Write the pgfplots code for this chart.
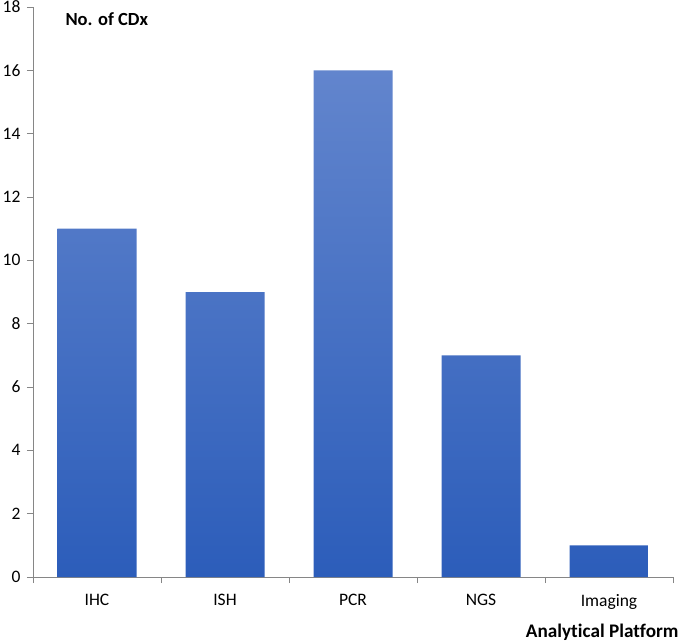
\documentclass[border=0pt]{standalone}
\usepackage{pgfplots}
\pgfplotsset{compat=1.18}
\usepackage{fontspec}
\setmainfont[Ligatures={CommonOff}]{Carlito}
\definecolor{bartop}{RGB}{98,133,205}
\definecolor{barbot}{RGB}{44,93,186}
\definecolor{axgray}{RGB}{134,134,134}
\begin{document}
\begin{tikzpicture}
\begin{axis}[
  scale only axis,
  width=640pt, height=570pt,
  xmin=-0.5, xmax=4.5, ymin=0, ymax=18,
  ybar, bar width=79pt,
  axis lines*=left,
  axis line style={axgray, line width=0.8pt},
  xtick={0,1,2,3,4},
  xticklabels={IHC,ISH,PCR,NGS,Imaging},
  minor xtick={-0.5,0.5,1.5,2.5,3.5,4.5},
  ytick={0,2,...,18},
  tick align=outside,
  major tick length=6pt,
  minor tick length=6pt,
  major x tick style={draw=none},
  minor x tick style={axgray, line width=0.8pt},
  major y tick style={axgray, line width=0.8pt},
  /pgf/number format/assume math mode=true,
  ticklabel style={font=\fontsize{17.5}{20}\selectfont, text=black},
  xticklabel style={yshift=-8pt},
  yticklabel style={xshift=-3pt},
  clip=false,
]
\addplot[draw=none, top color=bartop, bottom color=barbot] coordinates {(0,11) (1,9) (2,16) (3,7) (4,1)};
\node[anchor=base west, font=\fontsize{18.5}{22}\bfseries] at (axis cs:-0.5,17.43) [xshift=29pt] {No. of CDx};
\end{axis}
\node[anchor=base east, font=\fontsize{19.2}{22}\bfseries] at ([xshift=9pt,yshift=-60pt]current axis.south east) {Analytical Platform};
\pgfresetboundingbox
\path[use as bounding box] ([xshift=-33pt,yshift=-64pt]current axis.south west) rectangle ++(683pt,641pt);
\end{tikzpicture}
\end{document}
